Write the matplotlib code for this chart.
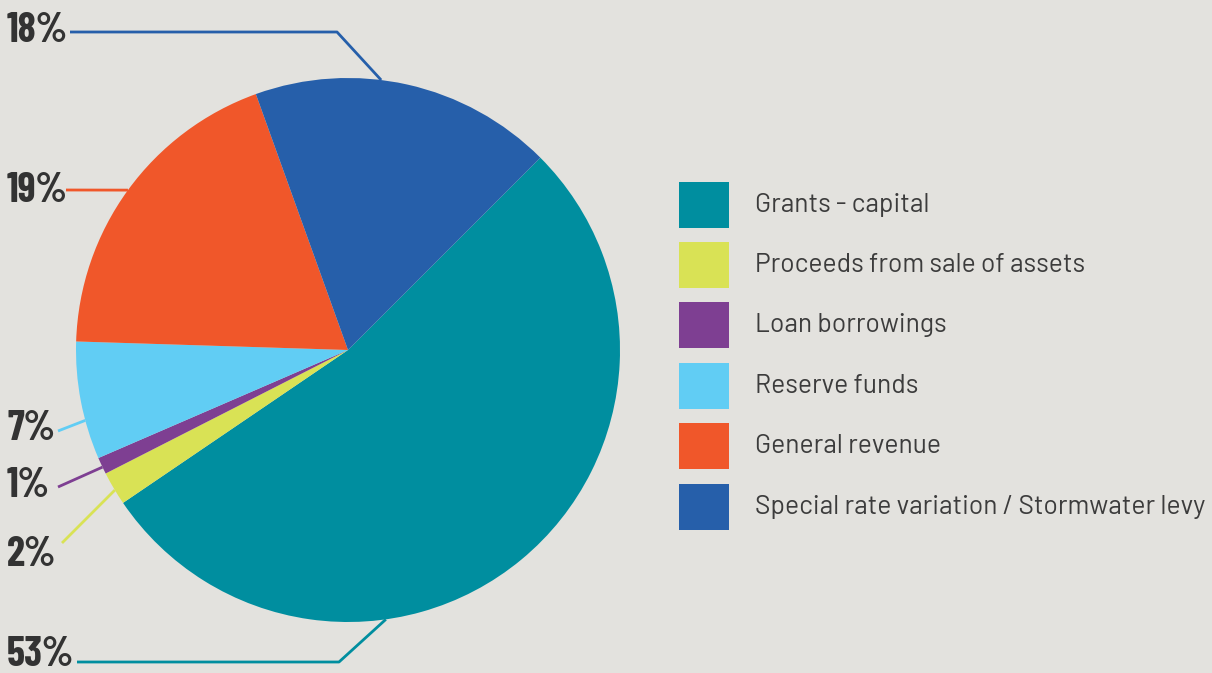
import numpy as np
import matplotlib
matplotlib.use("Agg")
import matplotlib.pyplot as plt
from matplotlib.patches import Rectangle

# capital funding sources (%)
sources = ["Grants - capital", "Proceeds from sale of assets", "Loan borrowings",
           "Reserve funds", "General revenue", "Special rate variation / Stormwater levy"]
shares = [53, 2, 1, 7, 19, 18]
colours = ["#008E9F", "#D9E255", "#7E3F92", "#61CDF4", "#F0572A", "#265FAA"]
pct_labels = ["53%", "2%", "1%", "7%", "19%", "18%"]

bg = "#E3E2DE"
W, H = 1212, 673

fig = plt.figure(figsize=(W / 100, H / 100), dpi=100, facecolor=bg)
ax = fig.add_axes([0, 0, 1, 1])

# pie in pixel units (y measured upward)
cx, cy, r = 348, H - 350, 272
ax.pie(shares, colors=colours, startangle=45, counterclock=False,
       center=(cx, cy), radius=r, frame=True,
       wedgeprops=dict(linewidth=0))
ax.set_xlim(0, W)
ax.set_ylim(0, H)
ax.set_aspect("equal")
ax.axis("off")


def edge(angle):
    a = np.deg2rad(angle)
    return cx + r * np.cos(a), cy + r * np.sin(a)


# label text position, leader path (before the edge point), edge angle
callouts = {
    "18%": ((7, 31), [(70, 32), (337, 32)], 83),
    "19%": ((7, 191), [(66, 190)], 144),
    "7%": ((7, 429), [(58, 431)], 195),
    "1%": ((7, 486), [(58, 487)], 205.5),
    "2%": ((7, 555), [(62, 543)], 211),
    "53%": ((7, 655), [(77, 662), (339, 662)], 278),
}

pct_font = ["Barlow Condensed", "DejaVu Sans"]
for lab, col in zip(pct_labels, colours):
    (tx, ty), path, ang = callouts[lab]
    ax.text(tx, H - ty, lab, fontsize=29.5, fontweight="bold", family=pct_font,
            color="#333333", ha="left", va="center")
    pts = [(x, H - y) for x, y in path] + [edge(ang)]
    xs, ys = zip(*pts)
    ax.plot(xs, ys, color=col, lw=2, solid_capstyle="butt")

# legend boxes
box_top = [182, 242, 302, 363, 423, 484]
for name, col, top in zip(sources, colours, box_top):
    ax.add_patch(Rectangle((679, H - top - 46), 50, 46, facecolor=col, edgecolor="none"))
    ax.text(755, H - top - 23, name, fontsize=19, family=["Barlow", "DejaVu Sans"],
            color="#3C3C3C", ha="left", va="center")

fig.savefig("out.png", dpi=100, facecolor=bg)
